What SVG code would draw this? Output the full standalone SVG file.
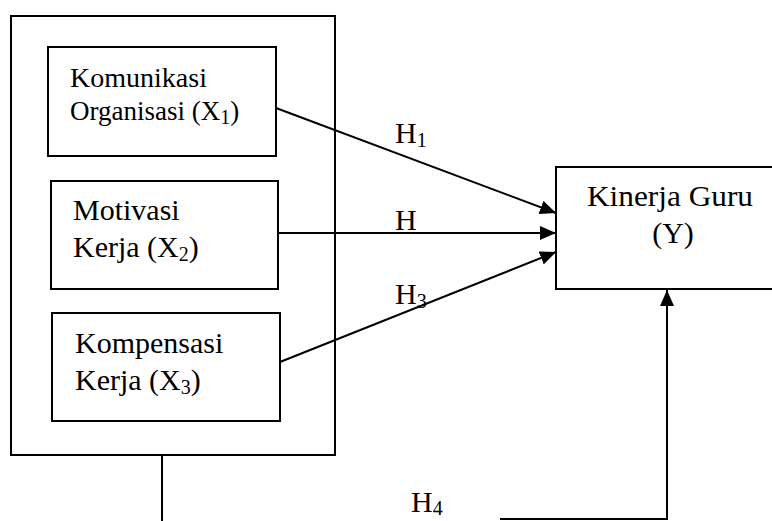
<svg xmlns="http://www.w3.org/2000/svg" width="772" height="521" viewBox="0 0 772 521">
<style>
.box{fill:none;stroke:#000;stroke-width:2}
.ln{fill:none;stroke:#000;stroke-width:2}
text{font-family:"Liberation Serif","Times New Roman",serif;fill:#000}
.t{font-size:30px}
.t1{font-size:27px}
.sub{font-size:20px}
</style>
<defs>
<marker id="ah" markerUnits="userSpaceOnUse" markerWidth="16" markerHeight="14" refX="16" refY="7" orient="auto">
<path d="M0,0 L16,7 L0,14 Z" fill="#000"/>
</marker>
</defs>
<rect width="772" height="521" fill="#fff"/>
<g id="outer"><rect class="box" x="11" y="16" width="324" height="439"/></g>
<g id="x1">
<rect class="box" x="48" y="47" width="228" height="109"/>
<text class="t1" x="70" y="87" textLength="137" lengthAdjust="spacingAndGlyphs">Komunikasi</text>
<text class="t1" x="70" y="120">Organisasi (X<tspan class="sub" dy="4">1</tspan><tspan dy="-4">)</tspan></text>
</g>
<g id="x2">
<rect class="box" x="51" y="181" width="227" height="108"/>
<text class="t" x="73" y="220">Motivasi</text>
<text class="t" x="73" y="257">Kerja (X<tspan class="sub" dy="4">2</tspan><tspan dy="-4">)</tspan></text>
</g>
<g id="x3">
<rect class="box" x="52" y="313" width="228" height="108"/>
<text class="t" x="75" y="353">Kompensasi</text>
<text class="t" x="75" y="390">Kerja (X<tspan class="sub" dy="4">3</tspan><tspan dy="-4">)</tspan></text>
</g>
<g id="y">
<rect class="box" x="556" y="167" width="240" height="122"/>
<text class="t" x="587" y="206" textLength="166" lengthAdjust="spacingAndGlyphs">Kinerja Guru</text>
<text class="t" x="673" y="243" text-anchor="middle">(Y)</text>
</g>
<g id="connectors">
<line class="ln" x1="276" y1="108" x2="556" y2="213" marker-end="url(#ah)"/>
<line class="ln" x1="278" y1="233" x2="556" y2="233" marker-end="url(#ah)"/>
<line class="ln" x1="280" y1="362" x2="556" y2="252" marker-end="url(#ah)"/>
<line class="ln" x1="162" y1="455" x2="162" y2="521"/>
<polyline class="ln" points="500,519 667,519 667,290" marker-end="url(#ah)"/>
<text class="t" x="395" y="143">H<tspan class="sub" dy="4">1</tspan></text>
<text class="t" x="395" y="230">H</text>
<text class="t" x="395" y="304">H<tspan class="sub" dy="4">3</tspan></text>
<text class="t" x="411" y="512">H<tspan class="sub" dy="3">4</tspan></text>
</g>
</svg>
